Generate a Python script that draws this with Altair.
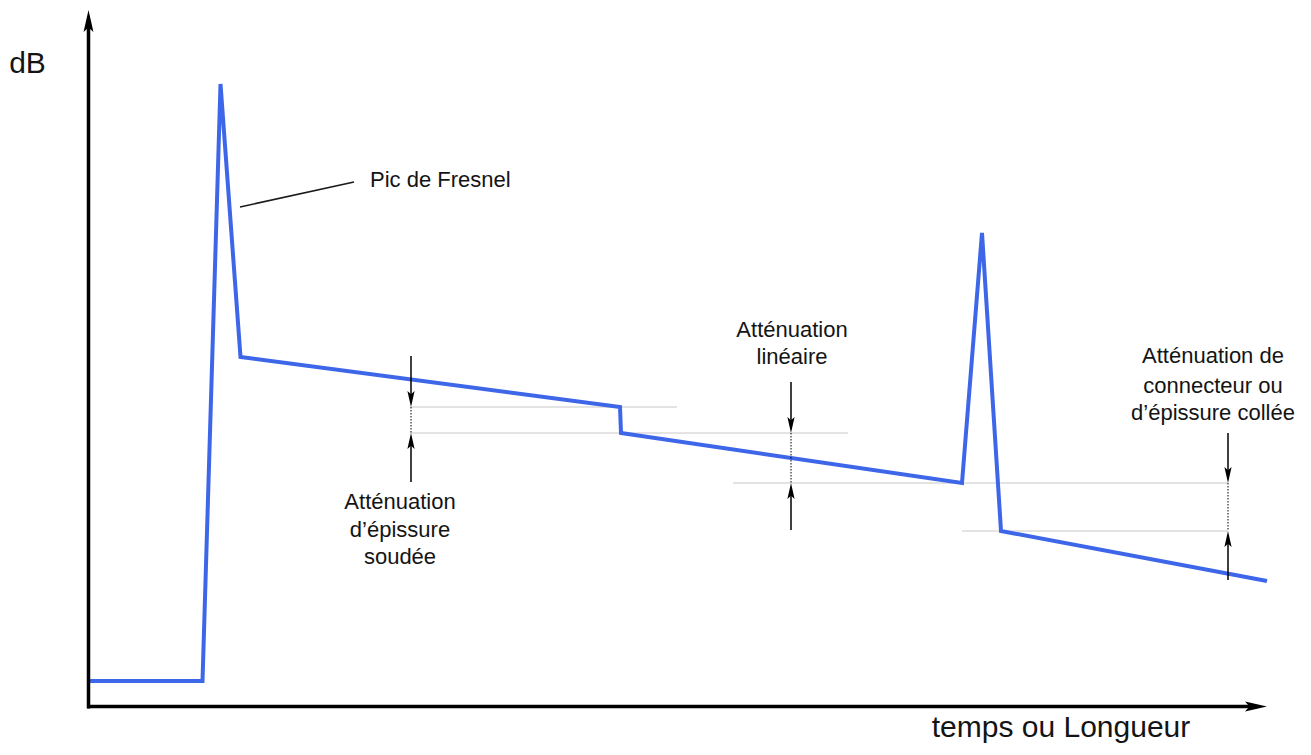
import altair as alt
import pandas as pd

# ---- data (x: time/length units, y: level units above the x-axis) ----
trace_x = [90, 202.5, 220.5, 240.5, 620, 621, 962, 982, 1001, 1267]
trace_y = [26, 26, 623, 350, 300, 274, 224, 474, 176, 126]

# gray reference levels
ref_y = [300, 274, 224, 176]
ref_x1 = [410, 410, 733, 962]
ref_x2 = [677, 848, 1228, 1228]

# measurement markers (dotted span + arrows)
meas_x = [411, 791, 1228]
meas_top = [300, 274, 224]
meas_bottom = [274, 224, 176]
arrow_down_from = [351, 325, 274]
arrow_up_from = [225, 177, 127]

# annotation texts
labels = ["Atténuation", "d’épissure", "soudée",
          "Atténuation", "linéaire",
          "Atténuation de", "connecteur ou", "d’épissure collée"]
label_x = [400, 400, 400, 792, 792, 1213, 1213, 1213]
label_y = [198, 170, 143, 370, 343, 344, 314, 287]

fresnel_label = ["Pic de Fresnel"]
fresnel_label_x = [370]
fresnel_label_y = [520]
leader_x = [240, 354]
leader_y = [500, 525]

axis_titles = ["dB", "temps  ou  Longueur"]
axis_title_x = [27.5, 1061]
axis_title_y = [634, -30]

# axes (arrow lines)
yaxis_x = 88.5
yaxis_from, yaxis_tip = -1.5, 697
xaxis_y = 0.5
xaxis_from, xaxis_tip = 87, 1267

BLUE = "#3E66E8"
FONT = "Liberation Sans"
TXT = "#141414"

xs = alt.Scale(domain=[8, 1303], nice=False, zero=False)
ys = alt.Scale(domain=[-40, 699], nice=False, zero=False)


def X(f):
    return alt.X(f, type="quantitative", scale=xs, axis=None)


def Y(f):
    return alt.Y(f, type="quantitative", scale=ys, axis=None)


UP = "M0,0L0.45,2L0,1.6L-0.45,2Z"
DOWN = "M0,0L-0.45,-2L0,-1.6L0.45,-2Z"
RIGHT = "M0,0L-2,-0.45L-1.6,0L-2,0.45Z"

# gray reference lines
ref_df = pd.DataFrame({"x": ref_x1, "x2": ref_x2, "y": ref_y})
ref = alt.Chart(ref_df).mark_rule(color="#c8c8c8", strokeWidth=1).encode(
    X("x"), x2="x2:Q", y=Y("y"))

# trace
trace_df = pd.DataFrame({"t": trace_x, "db": trace_y, "o": list(range(len(trace_x)))})
trace = alt.Chart(trace_df).mark_line(color=BLUE, strokeWidth=4, strokeJoin="miter").encode(
    X("t"), Y("db"), order="o:Q")

# dotted spans
dot_df = pd.DataFrame({"x": meas_x, "y": meas_top, "y2": meas_bottom})
dots = alt.Chart(dot_df).mark_rule(color="black", strokeWidth=1, strokeDash=[1.5, 1.5]).encode(
    X("x"), Y("y"), y2="y2:Q")

# arrow shafts
shaft_df = pd.DataFrame({
    "x": meas_x + meas_x,
    "y": arrow_down_from + arrow_up_from,
    "y2": [t + 4 for t in meas_top] + [b - 4 for b in meas_bottom],
})
shafts = alt.Chart(shaft_df).mark_rule(color="black", strokeWidth=1.5).encode(
    X("x"), Y("y"), y2="y2:Q")

down_df = pd.DataFrame({"x": meas_x, "y": meas_top})
down_heads = alt.Chart(down_df).mark_point(shape=DOWN, size=256, filled=True, color="black", opacity=1).encode(
    X("x"), Y("y"))
up_df = pd.DataFrame({"x": meas_x, "y": meas_bottom})
up_heads = alt.Chart(up_df).mark_point(shape=UP, size=256, filled=True, color="black", opacity=1).encode(
    X("x"), Y("y"))

# axes
axes_df = pd.DataFrame({
    "x": [yaxis_x, xaxis_from],
    "x2": [yaxis_x, xaxis_tip - 10],
    "y": [yaxis_from, xaxis_y],
    "y2": [yaxis_tip - 10, xaxis_y],
})
axes = alt.Chart(axes_df).mark_rule(color="black", strokeWidth=3.5).encode(
    X("x"), x2="x2:Q", y=Y("y"), y2="y2:Q")
yhead = alt.Chart(pd.DataFrame({"x": [yaxis_x], "y": [yaxis_tip]})).mark_point(
    shape=UP, size=484, filled=True, color="black", opacity=1).encode(X("x"), Y("y"))
xhead = alt.Chart(pd.DataFrame({"x": [xaxis_tip], "y": [xaxis_y]})).mark_point(
    shape=RIGHT, size=484, filled=True, color="black", opacity=1).encode(X("x"), Y("y"))

# Fresnel leader line
leader_df = pd.DataFrame({"x": [leader_x[0]], "x2": [leader_x[1]], "y": [leader_y[0]], "y2": [leader_y[1]]})
leader = alt.Chart(leader_df).mark_rule(color="#1a1a1a", strokeWidth=1.6).encode(
    X("x"), x2="x2:Q", y=Y("y"), y2="y2:Q")

# texts
lab_df = pd.DataFrame({"x": label_x, "y": label_y, "t": labels})
lab = alt.Chart(lab_df).mark_text(font=FONT, fontSize=22, color=TXT, align="center",
                                  baseline="alphabetic").encode(X("x"), Y("y"), text="t:N")
fres_df = pd.DataFrame({"x": fresnel_label_x, "y": fresnel_label_y, "t": fresnel_label})
fres = alt.Chart(fres_df).mark_text(font=FONT, fontSize=22, color=TXT, align="left",
                                    baseline="alphabetic").encode(X("x"), Y("y"), text="t:N")
at_df = pd.DataFrame({"x": axis_title_x, "y": axis_title_y, "t": axis_titles})
at = alt.Chart(at_df).mark_text(font=FONT, fontSize=30, color=TXT, align="center",
                                baseline="alphabetic").encode(X("x"), Y("y"), text="t:N")

chart = alt.layer(
    ref, trace, dots, shafts, down_heads, up_heads, axes, yhead, xhead, leader, lab, fres, at
).properties(
    width=1295, height=739, padding=0,
    autosize=alt.AutoSizeParams(type="none"),
    background="white",
).configure_view(stroke=None)

chart.save("out.html", embed_options={"renderer": "svg", "actions": False})
